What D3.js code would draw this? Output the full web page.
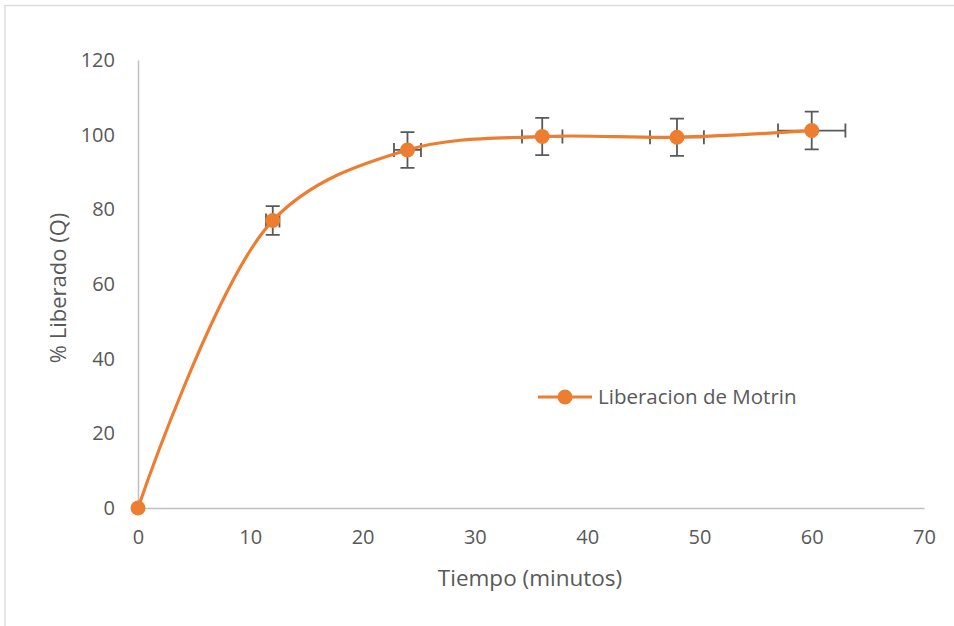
<!DOCTYPE html>
<html lang="es">
<head>
    <meta charset="UTF-8">
    <title>Liberacion de Motrin</title>
    <script src="https://d3js.org/d3.v7.min.js"></script>
    <style>
        body { margin: 0; background: #fff; }
        svg text { font-family: "Open Sans", sans-serif; fill: #595959; }
    </style>
</head>
<body>
    <div id="chart"></div>
    <script>
        // Data
        const tiempo = [0, 12, 24, 36, 48, 60];
        const liberado = [0, 77.0, 95.9, 99.5, 99.3, 101.1];
        const errorY = [0, 3.85, 4.8, 5.0, 5.0, 5.05];
        const errorX = [0, 0.6, 1.2, 1.8, 2.4, 3.0];
        const xTicks = [0, 10, 20, 30, 40, 50, 60, 70];
        const yTicks = [0, 20, 40, 60, 80, 100, 120];
        const seriesName = "Liberacion de Motrin";

        const width = 954;
        const height = 626;
        const orange = "#ED7D31";
        const barColor = "#595959";

        const svg = d3.select("#chart").append("svg")
            .attr("width", width)
            .attr("height", height);

        // chart area border
        svg.append("rect")
            .attr("x", 5)
            .attr("y", 5.5)
            .attr("width", 980)
            .attr("height", 660)
            .attr("fill", "none")
            .attr("stroke", "#D9D9D9")
            .attr("stroke-width", 1.3);

        const x = d3.scaleLinear().domain([0, 70]).range([138, 924]);
        const y = d3.scaleLinear().domain([0, 120]).range([508, 60]);

        const data = tiempo.map((t, i) => ({ t, v: liberado[i], ey: errorY[i], ex: errorX[i] }));

        // axes
        const xAxis = svg.append("g")
            .attr("transform", `translate(0,${y(0)})`)
            .call(d3.axisBottom(x).tickValues(xTicks).tickSize(0).tickPadding(22));
        const yAxis = svg.append("g")
            .attr("transform", `translate(${x(0)},0)`)
            .call(d3.axisLeft(y).tickValues(yTicks).tickSize(0).tickPadding(23));

        [xAxis, yAxis].forEach(a => {
            a.select(".domain").attr("stroke", "#BFBFBF").attr("stroke-width", 1.5);
            a.selectAll("text").style("font-size", "20px").attr("fill", "#595959");
        });

        // axis titles
        svg.append("text")
            .attr("x", 530)
            .attr("y", 586)
            .attr("text-anchor", "middle")
            .style("font-size", "22.5px")
            .text("Tiempo (minutos)");

        svg.append("text")
            .attr("transform", "translate(66,288) rotate(-90)")
            .attr("text-anchor", "middle")
            .style("font-size", "22px")
            .text("% Liberado (Q)");

        // error bars
        const cap = 7;
        const eb = svg.append("g")
            .attr("stroke", barColor)
            .attr("stroke-width", 1.8)
            .attr("fill", "none");
        data.filter(d => d.ey > 0).forEach(d => {
            const cx = x(d.t), cy = y(d.v);
            const y1 = y(d.v + d.ey), y2 = y(d.v - d.ey);
            const x1 = x(d.t - d.ex), x2 = x(d.t + d.ex);
            eb.append("path").attr("d",
                `M${cx},${y1}V${y2}M${cx - cap},${y1}H${cx + cap}M${cx - cap},${y2}H${cx + cap}` +
                `M${x1},${cy}H${x2}M${x1},${cy - cap}V${cy + cap}M${x2},${cy - cap}V${cy + cap}`);
        });

        // smoothed line
        const line = d3.line()
            .x(d => x(d.t))
            .y(d => y(d.v))
            .curve(d3.curveCatmullRom.alpha(0.5));

        svg.append("path")
            .datum(data)
            .attr("d", line)
            .attr("fill", "none")
            .attr("stroke", orange)
            .attr("stroke-width", 3.2)
            .attr("stroke-linecap", "round");

        svg.append("g")
            .selectAll("circle")
            .data(data)
            .join("circle")
            .attr("cx", d => x(d.t))
            .attr("cy", d => y(d.v))
            .attr("r", 7.5)
            .attr("fill", orange);

        // legend
        const legend = svg.append("g").attr("transform", "translate(538,397)");
        legend.append("line")
            .attr("x1", 0).attr("x2", 54)
            .attr("stroke", orange)
            .attr("stroke-width", 3.2);
        legend.append("circle")
            .attr("cx", 27)
            .attr("r", 7.5)
            .attr("fill", orange);
        legend.append("text")
            .attr("x", 60)
            .attr("dy", "0.35em")
            .style("font-size", "20.5px")
            .text(seriesName);
    </script>
</body>
</html>
